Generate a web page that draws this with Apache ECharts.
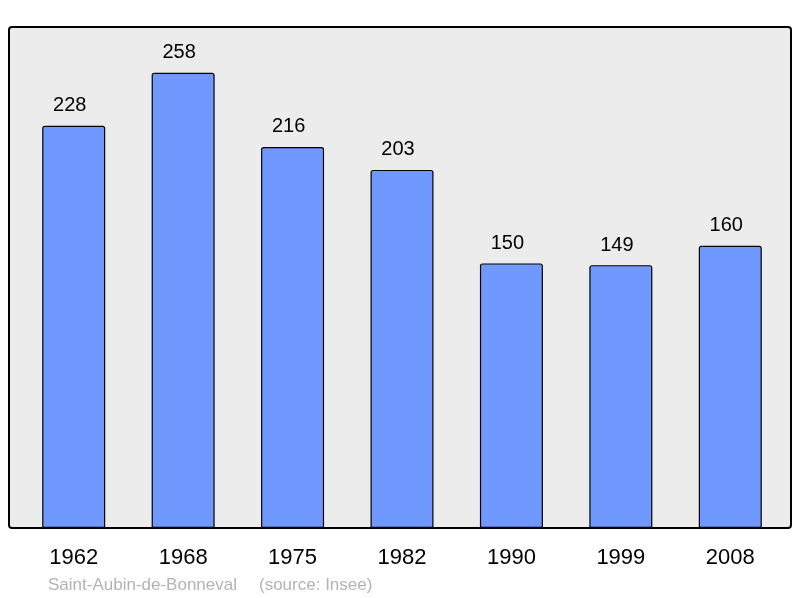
<!DOCTYPE html>
<html>
<head>
<meta charset="utf-8">
<script src="https://cdn.jsdelivr.net/npm/echarts@6/dist/echarts.min.js"></script>
<style>
  html, body { margin: 0; padding: 0; background: #fff; }
  #main { width: 800px; height: 598px; }
</style>
</head>
<body>
<div id="main"></div>
<script>
var years = ['1962', '1968', '1975', '1982', '1990', '1999', '2008'];
var population = [228, 258, 216, 203, 150, 149, 160];
var placeName = 'Saint-Aubin-de-Bonneval';
var sourceText = '(source: Insee)';

var myChart = echarts.init(document.getElementById('main'));
var option = {
    animation: false,
    backgroundColor: '#ffffff',
    graphic: [
        {
            type: 'rect',
            z: -10,
            shape: { x: 9, y: 27, width: 782, height: 501, r: 3 },
            style: { fill: '#ececec', stroke: '#000', lineWidth: 2 }
        },
        {
            type: 'text',
            left: 48,
            top: 577,
            style: {
                text: placeName,
                fill: '#b3b3b3',
                font: '17px "Liberation Sans", Arial, sans-serif'
            }
        },
        {
            type: 'text',
            left: 259,
            top: 577,
            style: {
                text: sourceText,
                fill: '#b3b3b3',
                font: '17px "Liberation Sans", Arial, sans-serif'
            }
        }
    ],
    grid: { left: 19, right: 15, top: 27, bottom: 70 },
    xAxis: {
        type: 'category',
        data: years,
        axisLine: { show: false },
        axisTick: { show: false },
        axisLabel: {
            color: '#000',
            fontSize: 22,
            margin: 19,
            offset: [-1, 0],
            fontFamily: '"Liberation Sans", Arial, sans-serif'
        }
    },
    yAxis: {
        type: 'value',
        min: 0,
        max: 284,
        show: false
    },
    series: [
        {
            type: 'bar',
            data: population,
            barWidth: 63,
            itemStyle: {
                color: '#7099ff',
                borderColor: '#000',
                borderWidth: 1.2,
                borderRadius: [2, 2, 0, 0]
            },
            label: {
                show: true,
                position: 'top',
                distance: 10,
                offset: [-4, 0],
                color: '#000',
                fontSize: 20,
                fontFamily: '"Liberation Sans", Arial, sans-serif'
            }
        }
    ]
};
myChart.setOption(option);
</script>
</body>
</html>
